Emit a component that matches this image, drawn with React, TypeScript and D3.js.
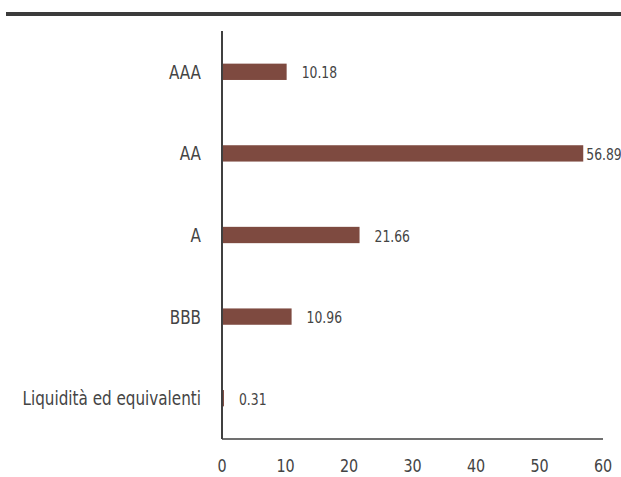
import * as d3 from 'd3';
import React, { useEffect, useRef } from 'react';

// rating buckets, top to bottom
const categories = ['AAA', 'AA', 'A', 'BBB', 'Liquidità ed equivalenti'];
const weights = [10.18, 56.89, 21.66, 10.96, 0.31];
const xTicks = [0, 10, 20, 30, 40, 50, 60];

const width = 621;
const height = 477;
const margin = { top: 31, right: 18, bottom: 38, left: 222 };
const font = '"DejaVu Sans", sans-serif';

// no condensed face is installed, so texts are squeezed horizontally
const squeeze = (tx: number, ty: number, k: number) =>
  `translate(${tx},${ty}) scale(${k},1)`;

const App: React.FC = () => {
  const svgRef = useRef<SVGSVGElement>(null);

  useEffect(() => {
    const svg = d3.select(svgRef.current);
    svg.selectAll('*').remove();

    const x = d3
      .scaleLinear()
      .domain([0, 60])
      .range([margin.left, width - margin.right]);

    const y = d3
      .scaleBand<string>()
      .domain(categories)
      .range([margin.top, height - margin.bottom])
      .paddingInner(0.8)
      .paddingOuter(0.4);

    // heavy rule at the top of the figure
    svg
      .append('rect')
      .attr('x', 6)
      .attr('y', 12)
      .attr('width', width - 6)
      .attr('height', 4)
      .attr('fill', '#3b3b3b');

    const rows = categories.map((c, i) => ({ c, v: weights[i] }));

    svg
      .append('g')
      .selectAll('rect')
      .data(rows)
      .join('rect')
      .attr('x', x(0))
      .attr('y', (d) => y(d.c)!)
      .attr('width', (d) => x(d.v) - x(0))
      .attr('height', y.bandwidth())
      .attr('fill', '#7e4a40');

    // value labels
    const vk = 0.8;
    const valueLabels = svg
      .append('g')
      .selectAll<SVGTextElement, { c: string; v: number }>('text')
      .data(rows)
      .join('text')
      .attr('transform', (d) =>
        squeeze(x(d.v) + 15, y(d.c)! + y.bandwidth() / 2 + 1, vk)
      )
      .attr('dy', '0.36em')
      .attr('font-family', font)
      .attr('font-size', 15.5)
      .attr('fill', '#444')
      .text((d) => d.v.toFixed(2));

    // pull a label back in when it would run off the right edge
    valueLabels.each(function (d) {
      const len = this.getComputedTextLength() * vk;
      const start = x(d.v) + 15;
      if (start + len > width - 1) {
        const nx = Math.max(x(d.v) + 3, width - 1 - len);
        d3.select(this).attr(
          'transform',
          squeeze(nx, y(d.c)! + y.bandwidth() / 2 + 1, vk)
        );
      }
    });

    // category labels
    svg
      .append('g')
      .selectAll('text')
      .data(categories)
      .join('text')
      .attr('transform', (d) =>
        squeeze(margin.left - 21, y(d)! + y.bandwidth() / 2, 0.78)
      )
      .attr('dy', '0.36em')
      .attr('text-anchor', 'end')
      .attr('font-family', font)
      .attr('font-size', 19.5)
      .attr('fill', '#444')
      .text((d) => d);

    // axes: plain lines, no tick marks
    svg
      .append('line')
      .attr('x1', x(0))
      .attr('x2', x(0))
      .attr('y1', margin.top)
      .attr('y2', height - margin.bottom)
      .attr('stroke', '#404040')
      .attr('stroke-width', 2);

    svg
      .append('line')
      .attr('x1', x(0))
      .attr('x2', x(60))
      .attr('y1', height - margin.bottom)
      .attr('y2', height - margin.bottom)
      .attr('stroke', '#404040')
      .attr('stroke-width', 1.5);

    svg
      .append('g')
      .selectAll('text')
      .data(xTicks)
      .join('text')
      .attr('transform', (d) => squeeze(x(d), height - margin.bottom + 27, 0.82))
      .attr('dy', '0.36em')
      .attr('text-anchor', 'middle')
      .attr('font-family', font)
      .attr('font-size', 17.5)
      .attr('fill', '#444')
      .text((d) => d);
  }, []);

  return (
    <svg
      ref={svgRef}
      width={width}
      height={height}
      style={{ position: 'absolute', left: 0, top: 0, background: '#fff' }}
    ></svg>
  );
};

export default App;
